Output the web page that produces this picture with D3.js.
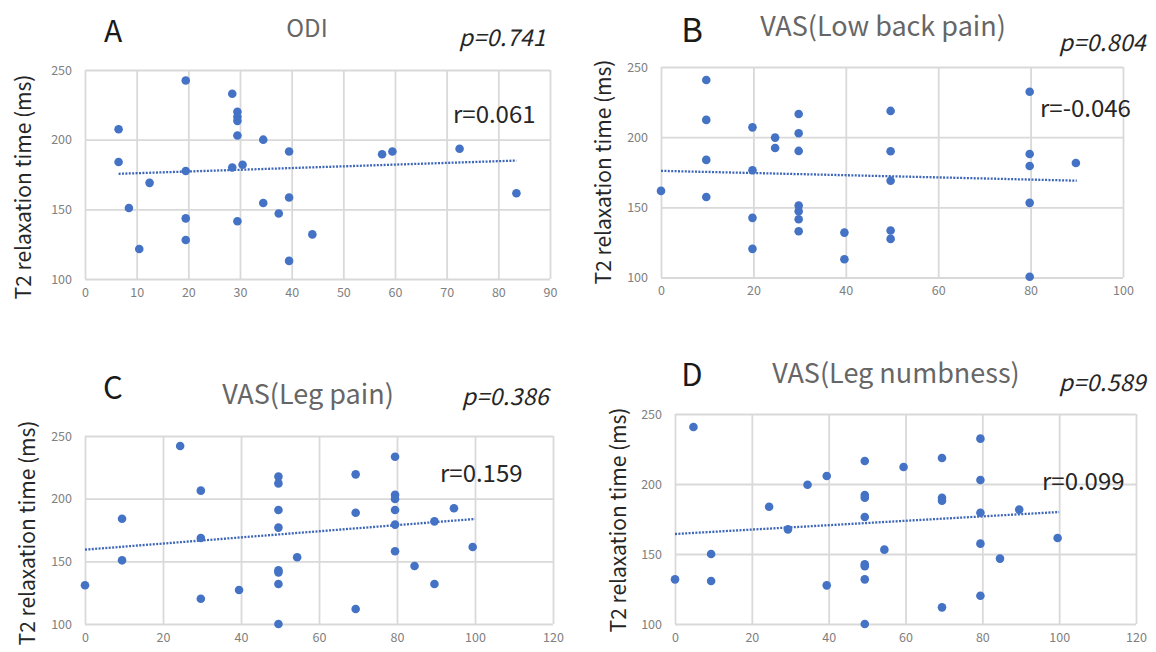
<!DOCTYPE html>
<html>
<head>
<meta charset="utf-8">
<script src="https://cdn.jsdelivr.net/npm/d3@7"></script>
<style>
  html, body { margin: 0; padding: 0; background: #ffffff; }
  svg { display: block; }
  text { font-family: "Noto Sans CJK JP", "Noto Sans", sans-serif; }
</style>
</head>
<body>
<svg id="chart" width="1156" height="652"></svg>
<script>
// ---------- data ----------
const panelLetters = ["A", "B", "C", "D"];
const panelTitles = ["ODI", "VAS(Low back pain)", "VAS(Leg pain)", "VAS(Leg numbness)"];
const pValues = ["p=0.741", "p=0.804", "p=0.386", "p=0.589"];
const rValues = ["r=0.061", "r=-0.046", "r=0.159", "r=0.099"];
const yAxisTitle = "T2 relaxation time (ms)";
const yTicks = [100, 150, 200, 250];
const xTicksA = [0, 10, 20, 30, 40, 50, 60, 70, 80, 90];
const xTicksB = [0, 20, 40, 60, 80, 100];
const xTicksC = [0, 20, 40, 60, 80, 100, 120];
const xTicksD = [0, 20, 40, 60, 80, 100, 120];

const odiX = [6.5, 6.5, 8.5, 10.5, 12.5, 19.5, 19.5, 19.5, 19.5, 28.5, 29.5, 29.5, 29.5, 29.5, 28.5, 29.5, 30.5, 34.5, 34.5, 37.5, 39.5, 39.5, 39.5, 44, 57.5, 59.5, 72.5, 83.5];
const odiY = [207.5, 184, 151, 121.5, 169, 242.5, 177.5, 143.5, 128, 233, 220, 216.5, 213.5, 203, 180, 141.5, 182, 200, 154.5, 147, 191.5, 158.5, 113, 132, 189.5, 191.5, 193.5, 161.5];

const lbpX = [0, 9.8, 9.8, 9.8, 9.8, 19.8, 19.8, 19.8, 19.8, 24.7, 24.7, 29.8, 29.8, 29.8, 29.8, 29.8, 29.8, 29.8, 39.7, 39.7, 49.7, 49.7, 49.7, 49.7, 49.7, 79.8, 79.8, 79.8, 79.8, 79.8, 89.8];
const lbpY = [161.7, 240.7, 212.3, 183.8, 157.4, 207, 176.4, 142.5, 120.4, 199.7, 192.3, 216.5, 202.8, 190.2, 151.3, 147.2, 141.5, 133, 132, 113, 218.7, 190, 169, 133.5, 127.5, 232.4, 188, 179.5, 153.2, 100.5, 181.6];

const legPainX = [0, 9.5, 9.5, 24.4, 29.7, 29.7, 29.7, 39.5, 49.6, 49.6, 49.6, 49.6, 49.6, 49.6, 49.6, 49.6, 54.4, 69.4, 69.4, 69.4, 79.5, 79.5, 79.5, 79.5, 79.5, 79.5, 84.5, 89.6, 89.6, 94.6, 99.4];
const legPainY = [130.9, 184, 150.8, 242, 206.4, 168.6, 120.2, 127.1, 217.6, 212.2, 191, 176.9, 142.8, 141.2, 131.9, 100, 153.2, 219.4, 188.8, 112, 233.5, 203, 199.7, 191, 179.3, 158, 146.3, 181.9, 131.9, 192.3, 161.4];

const numbX = [0, 4.8, 9.4, 9.4, 24.5, 29.4, 34.5, 39.5, 39.5, 49.4, 49.4, 49.4, 49.4, 49.4, 49.4, 49.4, 49.4, 54.5, 59.5, 69.5, 69.5, 69.5, 69.5, 79.5, 79.5, 79.5, 79.5, 79.5, 84.6, 89.6, 99.6];
const numbY = [131.9, 240.7, 150, 130.7, 183.8, 167.6, 199.5, 205.7, 127.6, 216.4, 192.1, 190.2, 176.4, 142.6, 141.2, 131.9, 100, 153.1, 212.1, 218.6, 190.2, 188.1, 111.9, 232.4, 202.9, 179.5, 157.4, 120.2, 146.7, 181.7, 161.4];

// trend line end points (x, y)
const trendAX = [6.5, 83.5], trendAY = [175.5, 185];
const trendBX = [0, 90], trendBY = [176, 169];
const trendCX = [0, 100], trendCY = [159.3, 183.8];
const trendDX = [0, 100], trendDY = [164.3, 180];

// ---------- layout ----------
const panels = [
  { xs: odiX, ys: odiY, tx: trendAX, ty: trendAY, ticks: xTicksA, xmax: 90,
    box: { l: 85, r: 550, t: 70, b: 279 }, titleSize: 24, letterSize: 30,
    letter: [113, 42], title: [307, 37], p: [546, 46], rv: [453, 123], ytitle: [22, 187] },
  { xs: lbpX, ys: lbpY, tx: trendBX, ty: trendBY, ticks: xTicksB, xmax: 100,
    box: { l: 661, r: 1123, t: 67, b: 277.5 }, titleSize: 27, letterSize: 33,
    letter: [692, 42], title: [883, 36], p: [1146, 51], rv: [1040, 117], ytitle: [602, 172] },
  { xs: legPainX, ys: legPainY, tx: trendCX, ty: trendCY, ticks: xTicksC, xmax: 120,
    box: { l: 85, r: 553, t: 436, b: 624 }, titleSize: 27, letterSize: 31,
    letter: [113, 399], title: [308, 404], p: [549, 405], rv: [440, 482], ytitle: [26, 533] },
  { xs: numbX, ys: numbY, tx: trendDX, ty: trendDY, ticks: xTicksD, xmax: 120,
    box: { l: 675, r: 1136, t: 414, b: 624 }, titleSize: 27, letterSize: 31,
    letter: [692, 386], title: [896, 383], p: [1146, 391], rv: [1042, 490], ytitle: [617, 520] }
];

const svg = d3.select("#chart");
const gridColor = "#d9d9d9";
const dotColor = "#4472c4";

panels.forEach((P, i) => {
  const b = P.box;
  const x = d3.scaleLinear().domain([0, P.xmax]).range([b.l, b.r]);
  const y = d3.scaleLinear().domain([100, 250]).range([b.b, b.t]);
  const g = svg.append("g");

  const xAxis = d3.axisBottom(x).tickValues(P.ticks).tickSize(-(b.b - b.t)).tickPadding(9);
  const gx = g.append("g").attr("transform", `translate(0,${b.b})`).call(xAxis);
  gx.select(".domain").remove();
  gx.selectAll(".tick line").attr("stroke", gridColor).attr("stroke-width", 1.8);
  gx.selectAll(".tick text").attr("fill", "#808080").attr("font-size", 12.5)
    .style("font-family", '"Noto Sans CJK JP", sans-serif');

  const yAxis = d3.axisLeft(y).tickValues(yTicks).tickSize(-(b.r - b.l)).tickPadding(13);
  const gy = g.append("g").attr("transform", `translate(${b.l},0)`).call(yAxis);
  gy.select(".domain").remove();
  gy.selectAll(".tick line").attr("stroke", gridColor).attr("stroke-width", 1.8);
  gy.selectAll(".tick text").attr("fill", "#808080").attr("font-size", 12.5)
    .style("font-family", '"Noto Sans CJK JP", sans-serif');

  // trend line (dotted)
  const tdata = P.tx.map((v, k) => [v, P.ty[k]]);
  g.append("path")
    .datum(tdata)
    .attr("d", d3.line().x(d => x(d[0])).y(d => y(d[1])))
    .attr("fill", "none")
    .attr("stroke", "#3d66b8")
    .attr("stroke-width", 2.3)
    .attr("stroke-dasharray", "2,1.4");

  // points
  const pts = P.xs.map((v, k) => [v, P.ys[k]]);
  g.selectAll("circle.pt").data(pts).enter().append("circle")
    .attr("class", "pt")
    .attr("cx", d => x(d[0]))
    .attr("cy", d => y(d[1]))
    .attr("r", 4.3)
    .attr("fill", dotColor);

  // texts
  g.append("text").attr("x", P.letter[0]).attr("y", P.letter[1])
    .attr("text-anchor", "middle").attr("font-size", P.letterSize).attr("fill", "#1a1a1a")
    .text(panelLetters[i]);
  g.append("text").attr("x", P.title[0]).attr("y", P.title[1])
    .attr("text-anchor", "middle").attr("font-size", P.titleSize).attr("fill", "#666666")
    .text(panelTitles[i]);
  g.append("text").attr("x", P.p[0]).attr("y", P.p[1])
    .attr("text-anchor", "end").attr("font-size", 23).attr("font-style", "italic")
    .attr("letter-spacing", 0.4)
    .attr("fill", "#262626")
    .text(pValues[i]);
  g.append("text").attr("x", P.rv[0]).attr("y", P.rv[1])
    .attr("text-anchor", "start").attr("font-size", 24).attr("fill", "#262626")
    .text(rValues[i]);
  g.append("text")
    .attr("transform", `translate(${P.ytitle[0]},${P.ytitle[1]}) rotate(-90)`)
    .attr("text-anchor", "middle").attr("dominant-baseline", "central")
    .attr("font-size", 21).attr("fill", "#262626")
    .text(yAxisTitle);
});
</script>
</body>
</html>
